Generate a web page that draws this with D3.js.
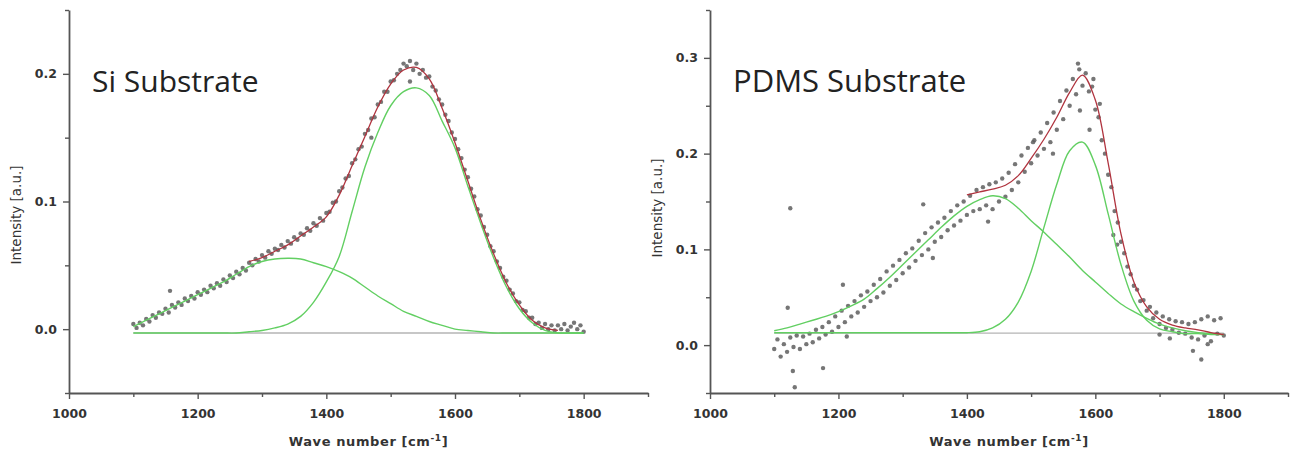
<!DOCTYPE html>
<html>
<head>
<meta charset="utf-8">
<script src="https://cdn.jsdelivr.net/npm/d3@7"></script>
<style>
  body { margin: 0; background: #fff; }
  svg { display: block; }
</style>
</head>
<body>
<svg id="chart" width="1290" height="454"></svg>
<script>
// ---- data ----
const xTicks = [1000, 1200, 1400, 1600, 1800];
const xMinorTicks = [1100, 1300, 1500, 1700, 1900];
const siYTicks = [0.0, 0.1, 0.2];
const siYMinor = [-0.05, 0.05, 0.15, 0.25];
const pdmsYTicks = [0.0, 0.1, 0.2, 0.3];
const pdmsYMinor = [-0.05, 0.05, 0.15, 0.25, 0.35];

// fitted components sampled every 20 cm-1
const fitGrid = [1100,1120,1140,1160,1180,1200,1220,1240,1260,1280,1300,1320,1340,1360,1380,1400,1420,1440,
  1460,1480,1500,1520,1540,1560,1580,1600,1620,1640,1660,1680,1700,1720,1740,1760,1780,1800];

// Si substrate
const siBroad = [0.002,0.007,0.012,0.017,0.022,0.027,0.032,0.037,0.043,0.049,0.053,0.055,0.0555,0.055,0.052,0.049,0.045,0.040,
  0.033,0.026,0.020,0.014,0.010,0.006,0.003,0.000,-0.001,-0.002,-0.003,-0.003,-0.003,-0.003,-0.003,-0.003,-0.003,-0.003];
const siNarrow = [-0.003,-0.003,-0.003,-0.003,-0.003,-0.003,-0.003,-0.003,-0.003,-0.002,-0.001,0.001,0.004,0.010,0.021,0.037,0.057,0.092,
  0.127,0.154,0.175,0.186,0.189,0.183,0.163,0.142,0.112,0.083,0.056,0.033,0.016,0.005,-0.001,-0.003,-0.003,-0.003];
const siFitX = [1280,1300,1320,1340,1360,1380,1400,1420,1440,1460,1480,1500,1520,1540,1560,1580,1600,1620,1640,1660,1680,1700,1720,1740,1760];
const siFit = [0.053,0.056,0.061,0.066,0.073,0.080,0.088,0.105,0.128,0.151,0.174,0.192,0.203,0.205,0.196,0.173,0.146,0.116,
  0.086,0.059,0.036,0.019,0.007,0.001,-0.001];
const siBaseline = -0.003;

// measured spectrum, every 5 cm-1 from 1100 to 1800
const siSpectrum = [0.004,0.001,0.005,0.003,0.008,0.006,0.011,0.009,0.013,0.012,0.016,0.013,0.019,0.017,0.021,0.019,0.024,0.022,0.026,0.024,
  0.029,0.027,0.031,0.029,0.034,0.032,0.036,0.034,0.039,0.037,0.042,0.040,0.045,0.043,0.048,0.046,0.052,0.050,0.055,0.053,
  0.058,0.056,0.061,0.059,0.063,0.062,0.066,0.064,0.069,0.067,0.072,0.070,0.075,0.074,0.079,0.077,0.083,0.081,0.087,0.085,
  0.091,0.092,0.099,0.100,0.108,0.111,0.118,0.120,0.130,0.133,0.141,0.143,0.153,0.156,0.165,0.166,0.176,0.178,0.186,0.186,
  0.194,0.195,0.200,0.203,0.208,0.206,0.210,0.203,0.208,0.200,0.203,0.197,0.198,0.190,0.187,0.180,0.176,0.168,0.163,0.154,
  0.149,0.141,0.134,0.125,0.119,0.110,0.104,0.094,0.089,0.080,0.074,0.065,0.061,0.053,0.048,0.041,0.038,0.031,0.028,0.022,
  0.021,0.015,0.014,0.009,0.009,0.004,0.005,0.001,0.004,0.000,0.003,-0.001,0.003,0.000,0.004,-0.001,0.002,0.005,0.000,0.003,
  -0.002];
const siStray = [[1157, 0.030], [1530, 0.194], [1470, 0.150]];

// PDMS substrate
const pdmsBroad = [0.015,0.018,0.022,0.026,0.030,0.035,0.041,0.048,0.059,0.071,0.084,0.097,0.110,0.123,0.135,0.145,0.152,0.156,
  0.153,0.143,0.130,0.118,0.105,0.092,0.078,0.066,0.054,0.043,0.035,0.028,0.022,0.018,0.015,0.013,0.012,0.011];
const pdmsNarrow = [0.013,0.013,0.013,0.013,0.013,0.013,0.013,0.013,0.013,0.013,0.013,0.013,0.013,0.013,0.013,0.013,0.014,0.018,
  0.027,0.045,0.077,0.123,0.168,0.203,0.212,0.188,0.137,0.084,0.046,0.026,0.017,0.014,0.012,0.012,0.011,0.011];
const pdmsFitX = [1400,1420,1440,1460,1480,1500,1520,1540,1560,1580,1600,1620,1640,1660,1680,1700,1720,1740,1760,1780,1800];
const pdmsFit = [0.157,0.160,0.163,0.167,0.177,0.195,0.215,0.238,0.264,0.282,0.256,0.190,0.116,0.066,0.040,0.027,0.021,0.018,0.016,0.013,0.011];
const pdmsBaseline = 0.0125;

const pdmsSpectrum = [-0.004,0.006,-0.012,0.001,-0.007,0.008,-0.002,0.010,-0.004,0.009,0.001,0.012,0.003,0.016,0.007,0.019,0.011,0.024,0.014,0.030,
  0.019,0.036,0.024,0.041,0.030,0.046,0.034,0.052,0.040,0.056,0.046,0.063,0.050,0.069,0.055,0.077,0.062,0.083,0.068,0.089,
  0.075,0.096,0.081,0.101,0.088,0.109,0.094,0.117,0.100,0.123,0.108,0.128,0.113,0.133,0.120,0.140,0.125,0.146,0.130,0.150,
  0.136,0.156,0.140,0.162,0.142,0.165,0.146,0.168,0.142,0.170,0.150,0.174,0.155,0.180,0.162,0.189,0.170,0.198,0.181,0.206,
  0.190,0.214,0.198,0.222,0.205,0.232,0.212,0.243,0.225,0.255,0.236,0.266,0.250,0.278,0.262,0.288,0.271,0.284,0.265,0.270,
  0.246,0.238,0.214,0.200,0.178,0.165,0.140,0.128,0.108,0.096,0.082,0.074,0.062,0.058,0.046,0.047,0.036,0.040,0.028,0.034,
  0.022,0.030,0.018,0.027,0.016,0.025,0.013,0.024,0.012,0.022,0.008,0.024,0.006,0.027,0.010,0.030,0.004,0.026,0.012,0.028,
  0.010];
const pdmsStray = [[1121,0.039],[1125,0.143],[1129,-0.027],[1132,-0.044],[1176,-0.024],[1207,0.063],[1213,0.009],[1332,0.147],
  [1347,0.091],[1433,0.129],[1503,0.212],[1534,0.200],[1573,0.294],[1576,0.245],[1591,0.225],[1597,0.278],[1607,0.252],
  [1628,0.115],[1634,0.105],[1700,0.011],[1716,0.007],[1752,-0.006],[1765,-0.015],[1775,0.001]];

const spectrumGrid = d3.range(1100, 1801, 5);

// ---- drawing ----
const svg = d3.select("#chart");
const plotTop = 10, plotBottom = 393;

function drawPanel(p) {
  const x = d3.scaleLinear().domain([1000, 1900]).range([p.left, p.right]);
  const y = d3.scaleLinear().domain(p.yDomain).range([plotBottom, plotTop]);
  const g = svg.append("g");

  // x axis
  g.append("g")
    .attr("transform", `translate(0,${plotBottom})`)
    .call(d3.axisBottom(x).tickValues(xMinorTicks).tickSize(4).tickFormat(""))
    .call(a => a.select(".domain").remove());
  g.append("g")
    .attr("class", "ax")
    .attr("transform", `translate(0,${plotBottom})`)
    .call(d3.axisBottom(x).tickValues(xTicks).tickSize(6).tickPadding(10).tickSizeOuter(0).tickFormat(d3.format("d")));

  // y axis
  g.append("g")
    .attr("transform", `translate(${p.left},0)`)
    .call(d3.axisLeft(y).tickValues(p.yMinor).tickSize(4).tickFormat(""))
    .call(a => a.select(".domain").remove());
  g.append("g")
    .attr("class", "ax")
    .attr("transform", `translate(${p.left},0)`)
    .call(d3.axisLeft(y).tickValues(p.yTicks).tickSize(6).tickPadding(6).tickSizeOuter(0).tickFormat(d3.format(".1f")));

  g.selectAll(".tick line").attr("stroke", "#555").attr("stroke-width", 1.4);
  g.selectAll(".domain").attr("stroke", "#555").attr("stroke-width", 1.8);
  g.selectAll(".ax text")
    .attr("fill", "#333")
    .style("font-family", "DejaVu Sans")
    .style("font-weight", "bold")
    .style("font-size", "12.5px");

  // axis titles
  const xt = g.append("text")
    .attr("x", (p.left + p.right) / 2 + 10)
    .attr("y", 446)
    .attr("text-anchor", "middle")
    .attr("fill", "#333")
    .style("font-family", "DejaVu Sans")
    .style("font-weight", "bold")
    .style("font-size", "13px")
    .style("letter-spacing", "0.6px");
  xt.append("tspan").text("Wave number [cm");
  xt.append("tspan").attr("dy", -5).style("font-size", "9px").text("-1");
  xt.append("tspan").attr("dy", 5).text("]");

  g.append("text")
    .attr("transform", `translate(${p.left - 48},${p.yTitle}) rotate(-90)`)
    .attr("text-anchor", "middle")
    .attr("fill", "#333")
    .style("font-family", "DejaVu Sans")
    .style("font-size", "13.5px")
    .text("Intensity [a.u.]");

  // baseline
  g.append("line")
    .attr("x1", x(1100)).attr("x2", x(1800))
    .attr("y1", y(p.baseline)).attr("y2", y(p.baseline))
    .attr("stroke", "#b4b4b4").attr("stroke-width", 1.3);

  // measured points
  const pts = spectrumGrid.map((v, i) => [v, p.spectrum[i]]).concat(p.stray);
  g.selectAll("circle.pt")
    .data(pts)
    .enter()
    .append("circle")
    .attr("class", "pt")
    .attr("cx", d => x(d[0]))
    .attr("cy", d => y(d[1]))
    .attr("r", 2.2)
    .attr("fill", "#5e5e5e")
    .attr("opacity", 0.85);

  const line = d3.line().x(d => x(d[0])).y(d => y(d[1])).curve(d3.curveCatmullRom.alpha(0.5));

  // components
  [p.broad, p.narrow].forEach(vals => {
    g.append("path")
      .attr("d", line(fitGrid.map((v, i) => [v, vals[i]])))
      .attr("fill", "none")
      .attr("stroke", "#62cf62")
      .attr("stroke-width", 1.4);
  });

  // cumulative fit
  g.append("path")
    .attr("d", line(p.fitX.map((v, i) => [v, p.fit[i]])))
    .attr("fill", "none")
    .attr("stroke", "#b0343f")
    .attr("stroke-width", 1.3);

  // panel label
  g.append("text")
    .attr("x", p.left + p.labelDx)
    .attr("y", 92)
    .attr("fill", "#222")
    .style("font-family", "Open Sans")
    .style("font-size", p.labelSize)
    .text(p.label);
}

drawPanel({
  left: 69, right: 648, yDomain: [-0.05, 0.25], yTicks: siYTicks, yMinor: siYMinor, yTitle: 215,
  broad: siBroad, narrow: siNarrow, fitX: siFitX, fit: siFit, baseline: siBaseline,
  spectrum: siSpectrum, stray: siStray, label: "Si Substrate", labelDx: 23, labelSize: "30px"
});
drawPanel({
  left: 710, right: 1288, yDomain: [-0.05, 0.35], yTicks: pdmsYTicks, yMinor: pdmsYMinor, yTitle: 208,
  broad: pdmsBroad, narrow: pdmsNarrow, fitX: pdmsFitX, fit: pdmsFit, baseline: pdmsBaseline,
  spectrum: pdmsSpectrum, stray: pdmsStray, label: "PDMS Substrate", labelDx: 23, labelSize: "31px"
});
</script>
</body>
</html>
